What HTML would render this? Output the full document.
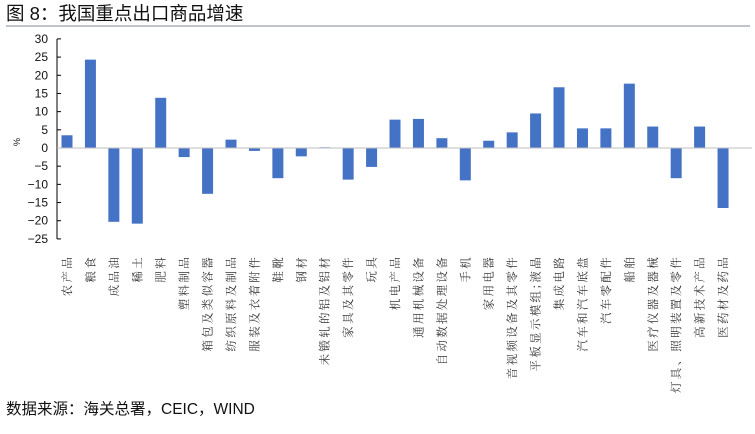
<!DOCTYPE html>
<html><head><meta charset="utf-8"><style>
body{margin:0;background:#fff;width:755px;height:429px;overflow:hidden;font-family:"Liberation Sans","Noto Sans CJK SC",sans-serif}
</style></head><body>
<svg width="755" height="429" xmlns="http://www.w3.org/2000/svg">
<text x="6" y="20" font-size="18.5" font-family="Liberation Sans, Noto Sans CJK SC, sans-serif" fill="#111">图 8：我国重点出口商品增速</text>
<line x1="6" y1="26" x2="750" y2="26" stroke="#7f8a97" stroke-width="1"/>
<g font-size="12" font-family="Liberation Sans, sans-serif" fill="#111" text-anchor="end" id="yt"></g>
<text transform="translate(20,142) rotate(-90)" font-size="9" fill="#111" text-anchor="middle">%</text>
<line x1="57" y1="39" x2="57" y2="239" stroke="#000" stroke-width="1"/>
<g id="ticks"></g>
<g id="bars" fill="#4472C4"></g>
<line x1="57" y1="148" x2="752" y2="148" stroke="#bfbfbf" stroke-width="1"/>
<g id="labels" font-size="11.5" font-family="Noto Serif CJK SC, serif" fill="#333" text-anchor="end"></g>
<text x="6" y="414" font-size="15.5" font-family="Liberation Sans, Noto Sans CJK SC, sans-serif" fill="#111">数据来源：海关总署，CEIC，WIND</text>
</svg>
<script>
var ns="http://www.w3.org/2000/svg";
function el(t,a,p,txt){var e=document.createElementNS(ns,t);for(var k in a)e.setAttribute(k,a[k]);if(txt!=null)e.textContent=txt;document.getElementById(p).appendChild(e);}
var y0=148,u=200/55;
for(var v=30;v>=-25;v-=5){var y=y0-v*u;el("text",{x:48,y:y+4},"yt",String(v).replace("-","−"));el("line",{x1:57,y1:y,x2:61,y2:y,stroke:"#000"},"ticks");}
var vals=[3.5,24.3,-20.3,-20.8,13.8,-2.5,-12.6,2.3,-0.8,-8.3,-2.3,0.2,-8.7,-5.2,7.8,8.0,2.7,-8.9,2.0,4.3,9.5,16.7,5.4,5.4,17.7,5.9,-8.3,5.9,-16.5];
var labs=["农产品","粮食","成品油","稀土","肥料","塑料制品","箱包及类似容器","纺织原料及制品","服装及衣着附件","鞋靴","钢材","未锻轧的铝及铝材","家具及其零件","玩具","机电产品","通用机械设备","自动数据处理设备","手机","家用电器","音视频设备及其零件","平板显示模组;液晶","集成电路","汽车和汽车底盘","汽车零配件","船舶","医疗仪器及器械","灯具、照明装置及零件","高新技术产品","医药材及药品"];
for(var i=0;i<vals.length;i++){var cx=67+i*23.43,v=vals[i];var h=Math.abs(v)*u;var y=v>=0?y0-h:y0;
el("rect",{x:cx-5.5,y:y,width:11,height:Math.max(h,0.5)},"bars");
el("text",{transform:"translate("+(cx+4)+",255) rotate(-90)","letter-spacing":"2.3"},"labels",labs[i]);}
</script>
</body></html>
